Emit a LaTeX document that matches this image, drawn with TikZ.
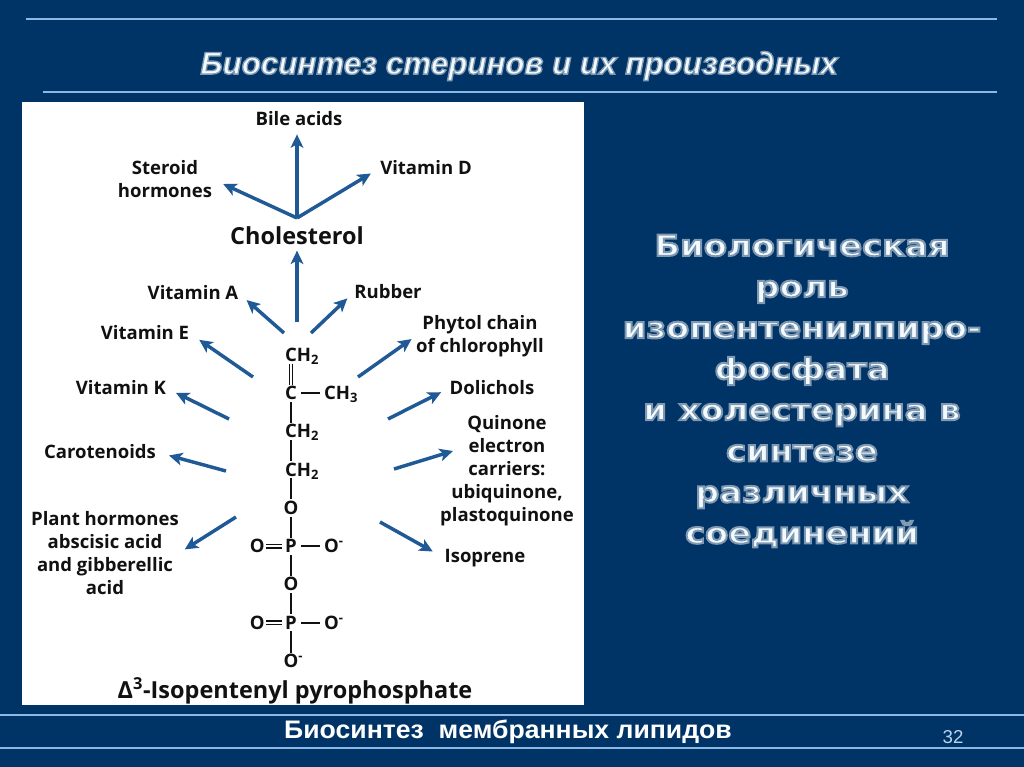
\documentclass[tikz,border=0pt]{standalone}
\usepackage{fontspec}
\setmainfont{Liberation Sans}
\newfontfamily\figfont{Open Sans}
\newfontfamily\roleFont[FakeStretch=1.15]{DejaVu Sans}
\newfontfamily\footFont[FakeStretch=1.05]{Liberation Sans}
\usepackage{xcolor}
\definecolor{cBack}{HTML}{003366}
\definecolor{cRule}{HTML}{8DB8E6}
\definecolor{cPanel}{HTML}{FFFFFF}
\definecolor{cArrow}{HTML}{1F5A96}
\definecolor{cInk}{HTML}{111111}
\definecolor{cPale}{HTML}{F2FAFD}
\usetikzlibrary{positioning,arrows.meta}
% embossed lettering: pale fill with a grey edge
\newcommand{\emboss}[2]{\special{pdf:code q 2 Tr #1 w 0.5 0.6 0.7 RG}#2\special{pdf:code Q}}
\tikzset{
  node-label/.style={font=\figfont\bfseries\fontsize{13.9}{17.25}\selectfont,text=cInk,align=center,inner sep=0pt},
  node-big/.style={node-label,font=\figfont\bfseries\fontsize{17.6}{20}\selectfont},
  node-atom/.style={font=\figfont\bfseries\fontsize{13.9}{14}\selectfont,text=cInk,inner sep=0pt,
    text height=11pt,text depth=1.5pt},
  node-role/.style={font=\roleFont\bfseries\fontsize{22}{30.8}\selectfont,text=cPale,align=center,inner sep=0pt},
  arrow/.style={-{Stealth[length=10pt,width=9.5pt,inset=2.5pt]},line width=2.6pt,draw=cArrow},
  bond/.style={line width=1.5pt,draw=cInk},
  bond-double/.style={line width=1.1pt,draw=cInk,double=cPanel,double distance=1.5pt},
  rule/.style={line width=1.1pt,draw=cRule},
}
\begin{document}
\begin{tikzpicture}[x=0.75pt,y=-0.75pt,node distance=15.8pt and 15pt]
  \useasboundingbox (0,0) rectangle (1024,767);
  \fill[cBack] (0,0) rectangle (1024,767);
  \fill[cPanel] (22,102) rectangle (584,705);
  \coordinate (r1a) at (26,19);  \coordinate (r1b) at (997,19);
  \coordinate (r2a) at (43,92);  \coordinate (r2b) at (997,92);
  \coordinate (r3a) at (0,715);  \coordinate (r3b) at (1024,715);
  \coordinate (r4a) at (0,748);  \coordinate (r4b) at (1024,748);
  \draw[rule] (r1a) -- (r1b);
  \draw[rule] (r2a) -- (r2b);
  \draw[rule] (r3a) -- (r3b);
  \draw[rule] (r4a) -- (r4b);

  \node[font=\bfseries\itshape\fontsize{23.5}{26}\selectfont,text=cPale,inner sep=0pt] (title) at (519,66) {\emboss{1.0}{Биосинтез стеринов и их производных}};
  \node[node-role] (role) at (802,391) {\emboss{1.5}{Биологическая\\роль\\изопентенилпиро-\\фосфата\\и холестерина в\\синтезе\\различных\\соединений}};
  \node[font=\footFont\bfseries\fontsize{19}{22}\selectfont,text=white,inner sep=0pt] (foot) at (508,732) {Биосинтез\ \ мембранных липидов};
  \node[font=\fontsize{14}{16}\selectfont,text=cRule!60!white,inner sep=0pt] (page) at (953,737) {32};

  % products
  \node[node-label] (bile)  at (299,119) {Bile acids};
  \node[node-label] (ster)  at (165,179) {Steroid\\hormones};
  \node[node-label] (vitD)  at (426,168) {Vitamin D};
  \node[node-big]   (chol)  at (297,236) {Cholesterol};
  \node[node-label] (vitA)  at (193,293) {Vitamin A};
  \node[node-label] (rub)   at (388,292) {Rubber};
  \node[node-label] (vitE)  at (145,333) {Vitamin E};
  \node[node-label] (phyt)  at (480,336) {Phytol chain\\of chlorophyll};
  \node[node-label] (vitK)  at (121,388) {Vitamin K};
  \node[node-label] (doli)  at (492,388) {Dolichols};
  \node[node-label] (caro)  at (100,452) {Carotenoids};
  \node[node-label] (quin)  at (507,471) {Quinone\\electron\\carriers:\\ubiquinone,\\plastoquinone};
  \node[node-label] (plant) at (105,553) {Plant hormones\\abscisic acid\\and gibberellic\\acid};
  \node[node-label] (isop)  at (485,558) {Isoprene};

  % isopentenyl chain
  \node[node-atom] (ch2a) at (291,355) {C\rlap{H\textsubscript{2}}};
  \node[node-atom,below=of ch2a] (cen)  {C};
  \node[node-atom,below=of cen]  (ch2b) {C\rlap{H\textsubscript{2}}};
  \node[node-atom,below=of ch2b] (ch2c) {C\rlap{H\textsubscript{2}}};
  \node[node-atom,below=of ch2c] (oa)   {O};
  \node[node-atom,below=of oa]   (pa)   {P};
  \node[node-atom,below=of pa]   (ob)   {O};
  \node[node-atom,below=of ob]   (pb)   {P};
  \node[node-atom,below=of pb]   (oc)   {O\rlap{\textsuperscript{-}}};
  \node[node-atom,right=20pt of cen] (ch3) {CH\textsubscript{3}};
  \node[node-atom,right=20pt of pa] (oar) {O\rlap{\textsuperscript{-}}};
  \node[node-atom,left=of pa]  (oal) {O};
  \node[node-atom,right=20pt of pb] (obr) {O\rlap{\textsuperscript{-}}};
  \node[node-atom,left=of pb]  (obl) {O};
  \node[node-big] (ipp) at (295,691) {Δ\textsuperscript{3}-Isopentenyl pyrophosphate};

  \draw[bond-double] (ch2a) -- (cen);
  \draw[bond] (cen) -- (ch2b);
  \draw[bond] (ch2b) -- (ch2c);
  \draw[bond] (ch2c) -- (oa);
  \draw[bond] (oa) -- (pa);
  \draw[bond] (pa) -- (ob);
  \draw[bond] (ob) -- (pb);
  \draw[bond] (pb) -- (oc);
  \draw[bond,shorten <=3pt,shorten >=3pt] (cen) -- (ch3);
  \draw[bond,shorten <=3pt,shorten >=3pt] (pa) -- (oar);
  \draw[bond-double,shorten <=1pt,shorten >=2pt] (oal) -- (pa);
  \draw[bond,shorten <=3pt,shorten >=3pt] (pb) -- (obr);
  \draw[bond-double,shorten <=1pt,shorten >=2pt] (obl) -- (pb);

  % arrow tails
  \coordinate (apex)    at (297,218);
  \coordinate (t-chol)  at (297,322);
  \coordinate (t-vitA)  at (284,333);
  \coordinate (t-rub)   at (311,333);
  \coordinate (t-vitE)  at (253,377);
  \coordinate (t-phyt)  at (358,377);
  \coordinate (t-vitK)  at (229,419);
  \coordinate (t-doli)  at (388,419);
  \coordinate (t-caro)  at (226,471);
  \coordinate (t-quin)  at (394,469);
  \coordinate (h-quin)  at (453,451);
  \coordinate (t-plant) at (236,517);
  \coordinate (t-isop)  at (380,522);

  \draw[arrow,shorten >=6pt] (apex) -- (apex |- bile.south);
  \draw[arrow,shorten >=9pt] (apex) -- (ster.east);
  \draw[arrow,shorten >=8pt] (apex) -- (vitD.west);
  \draw[arrow,shorten >=4pt] (t-chol) -- (chol);
  \draw[arrow,shorten >=8pt] (t-vitA) -- (vitA.east);
  \draw[arrow,shorten >=7pt] (t-rub) -- (rub.west);
  \draw[arrow,shorten >=9pt] (t-vitE) -- (vitE.east);
  \draw[arrow,shorten >=4pt] (t-phyt) -- (phyt.west);
  \draw[arrow,shorten >=8pt] (t-vitK) -- (vitK.east);
  \draw[arrow,shorten >=7pt] (t-doli) -- (doli.west);
  \draw[arrow,shorten >=10pt] (t-caro) -- (caro.east);
  \draw[arrow] (t-quin) -- (h-quin);
  \draw[arrow,shorten >=5pt] (t-plant) -- (plant.east);
  \draw[arrow,shorten >=10pt] (t-isop) -- (isop.west);
\end{tikzpicture}
\end{document}
